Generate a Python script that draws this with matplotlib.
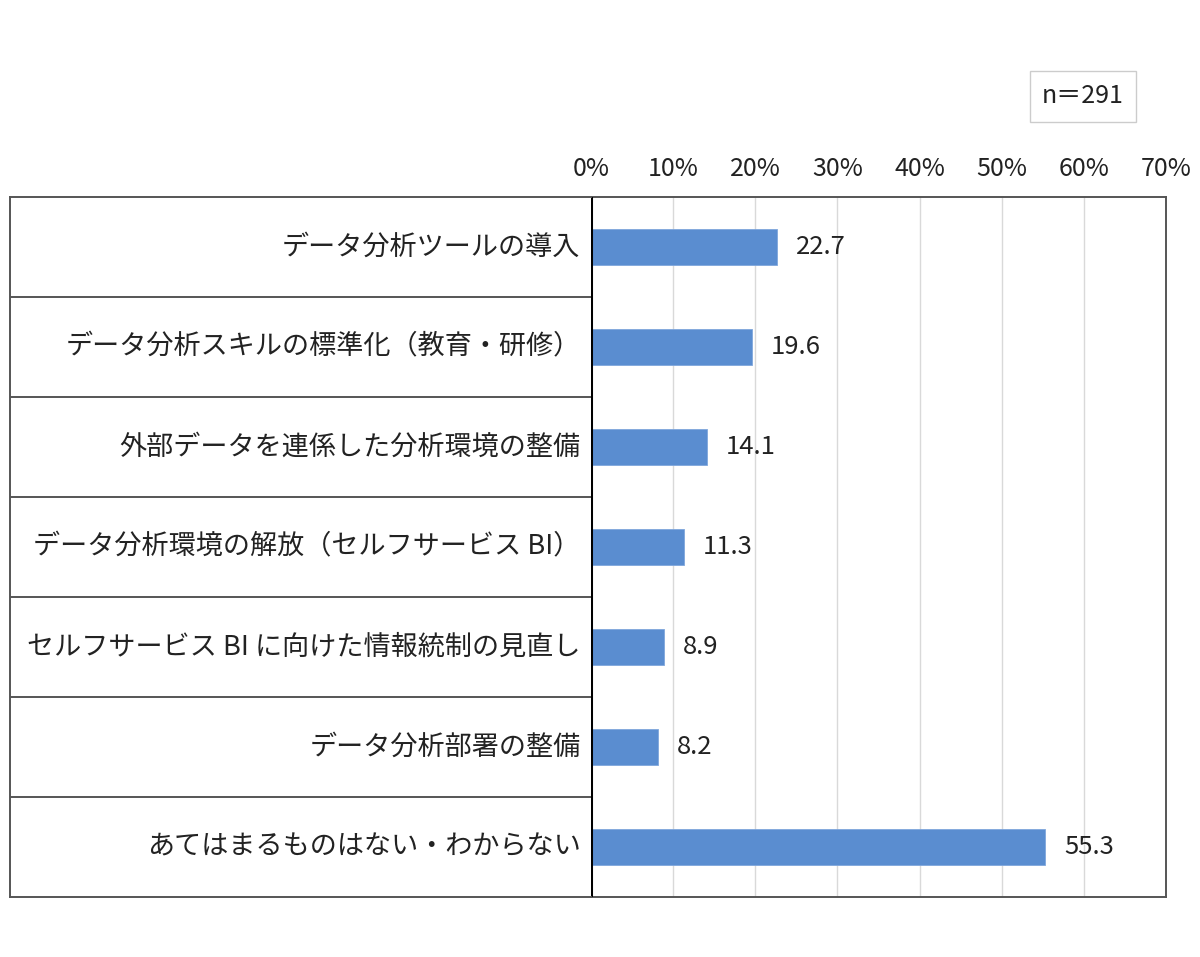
import matplotlib.pyplot as plt
import numpy as np

plt.rcParams['font.family'] = ['Noto Sans CJK JP', 'DejaVu Sans']

categories = [
    "データ分析ツールの導入",
    "データ分析スキルの標準化（教育・研修）",
    "外部データを連係した分析環境の整備",
    "データ分析環境の解放（セルフサービス BI）",
    "セルフサービス BI に向けた情報統制の見直し",
    "データ分析部署の整備",
    "あてはまるものはない・わからない",
]
values = [22.7, 19.6, 14.1, 11.3, 8.9, 8.2, 55.3]
ticks = [0, 10, 20, 30, 40, 50, 60, 70]
tick_labels = [f"{t}%" for t in ticks]
n_label = "n＝291"

W, H = 1200, 957
fig = plt.figure(figsize=(W / 100, H / 100), dpi=100)

left, right, top, bottom = 591, 1166, 197, 897
ax = fig.add_axes([left / W, 1 - bottom / H, (right - left) / W, (bottom - top) / H])
lax = fig.add_axes([10 / W, 1 - bottom / H, (left - 10) / W, (bottom - top) / H])

y = np.arange(len(categories))
bar_color = "#5a8dd0"
ax.barh(y, values, height=0.36, color=bar_color, edgecolor="#7fa6dc", linewidth=0.6, zorder=3)
for yi, v in zip(y, values):
    ax.text(v + 2.3, yi, f"{v:.1f}", va="center", ha="left", fontsize=18.5, color="#222222")

ax.set_xlim(0, 70)
ax.set_ylim(len(categories) - 0.5, -0.5)
ax.set_xticks(ticks)
ax.set_xticklabels(tick_labels, fontsize=18, color="#222222")
ax.xaxis.tick_top()
ax.tick_params(axis="x", length=0, pad=11)
ax.set_yticks([])
ax.grid(axis="x", color="#d9d9d9", linewidth=1, zorder=0)
ax.axvline(0, color="black", linewidth=2.2, zorder=4)
for s in ["top", "right", "bottom"]:
    ax.spines[s].set_color("#555555")
    ax.spines[s].set_linewidth(1.4)
ax.spines["left"].set_visible(False)

# label column
lax.set_xlim(0, 1)
lax.set_ylim(len(categories) - 0.5, -0.5)
lax.set_xticks([])
lax.set_yticks([])
for s in lax.spines.values():
    s.set_color("#555555")
    s.set_linewidth(1.4)
lax.spines["right"].set_visible(False)
for b in np.arange(0.5, len(categories) - 0.5, 1):
    lax.axhline(b, color="#555555", linewidth=1.4)
for yi, c in zip(y, categories):
    lax.text(0.982, yi, c, ha="right", va="center", fontsize=19.5, color="#222222")

fig.text(1083 / W, 1 - 96 / H, n_label, ha="center", va="center", fontsize=18, color="#222222",
         bbox=dict(boxstyle="square,pad=0.5", facecolor="white", edgecolor="#cccccc", linewidth=1))

fig.savefig("out.png", dpi=100)
